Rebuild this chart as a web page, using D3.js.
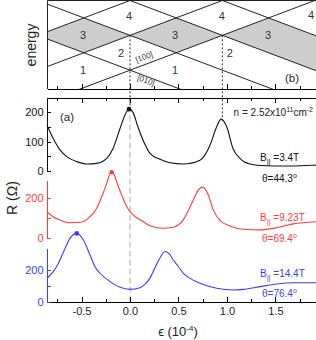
<!DOCTYPE html>
<html>
<head>
<meta charset="utf-8">
<script src="https://cdn.jsdelivr.net/npm/d3@7"></script>
<style>
  body { margin: 0; background: #fff; }
  svg { display: block; font-family: 'Liberation Sans', Arial, sans-serif; }
</style>
</head>
<body>
<div id="chart"></div>
<script>
// strain axis (units of 1e-4)
const strainRange = [-0.856, 1.918];
const strainMajor = [-0.5, 0, 0.5, 1, 1.5];
const strainMinor = [-0.75, -0.25, 0.25, 0.75, 1.25, 1.75];

// (b) level fan: energy of each valley level at zero strain, slope vs strain
const levels100 = [1, 2, 3, 4];
const levels010 = [1, 2, 3, 4, 5];
const levelSlope = 1.05;
const energyRange = [0.46, 3];
const greyFilling = 3;
const regionLabels = [
  ['1', -0.485, 1.0], ['1', 0.464, 1.0],
  ['2', -0.093, 1.49], ['2', 1.03, 1.49],
  ['3', -0.485, 2.0], ['3', 0.464, 2.0], ['3', 1.423, 2.0],
  ['4', -0.01, 2.55], ['4', 0.948, 2.55], ['4', 1.866, 2.57]
];
const coincidences = [0, 0.952];

// (a) resistance traces, [strain, R in ohm]
const traceBlack = [
  [-0.856, 156], [-0.792, 111], [-0.722, 72], [-0.653, 49], [-0.549, 32], [-0.446, 24],
  [-0.343, 26], [-0.240, 43], [-0.175, 77], [-0.103, 145], [-0.052, 191], [-0.010, 211],
  [0.031, 200], [0.082, 150], [0.155, 90], [0.206, 60], [0.309, 40], [0.412, 28],
  [0.546, 24], [0.722, 37], [0.825, 88], [0.894, 151], [0.938, 177], [0.997, 151],
  [1.062, 77], [1.134, 43], [1.237, 24], [1.409, 18], [1.577, 17], [1.753, 18], [1.918, 20]
];
const traceRed = [
  [-0.856, 133], [-0.794, 108], [-0.722, 92], [-0.619, 78], [-0.515, 80], [-0.412, 108],
  [-0.343, 150], [-0.292, 208], [-0.240, 275], [-0.216, 312], [-0.189, 330], [-0.160, 315],
  [-0.138, 283], [-0.086, 217], [-0.034, 158], [0.034, 116], [0.137, 83], [0.206, 63],
  [0.343, 50], [0.447, 55], [0.549, 92], [0.653, 192], [0.704, 242], [0.750, 256],
  [0.807, 217], [0.859, 142], [0.928, 88], [1.031, 62], [1.168, 45], [1.340, 42],
  [1.512, 53], [1.684, 72], [1.918, 83]
];
const traceBlue = [
  [-0.856, 149], [-0.792, 190], [-0.739, 241], [-0.670, 334], [-0.619, 396], [-0.549, 427],
  [-0.481, 386], [-0.412, 293], [-0.361, 220], [-0.309, 180], [-0.206, 128], [-0.103, 93],
  [0.000, 80], [0.103, 90], [0.155, 112], [0.206, 150], [0.258, 215], [0.309, 275],
  [0.361, 315], [0.412, 295], [0.446, 262], [0.495, 225], [0.546, 183], [0.619, 148],
  [0.722, 118], [0.894, 87], [1.065, 76], [1.168, 80], [1.340, 97], [1.512, 113],
  [1.684, 121], [1.918, 121]
];
const fieldLabels = ['3.4T', '9.23T', '14.4T'];
const angleLabels = ['44.3', '69.4', '76.4'];
const rRanges = [[0, 250], [0, 291], [0, 334]];
const rTicks = [[0, 50, 100, 150, 200], [0, 100, 200], [0, 100, 200]];
const rTickLabels = [[0, 100, 200], [0, 200], [0, 200]];

const W = 316, H = 340;
const L = 47, R = 316;
const colors = ['#111', '#ff3b3b', '#3b3bff'];
const traces = [traceBlack, traceRed, traceBlue];

const svg = d3.select('#chart').append('svg').attr('width', W).attr('height', H);

const x = d3.scaleLinear().domain(strainRange).range([L, R]);
const yE = d3.scaleLinear().domain(energyRange).range([89, 0.5]);
const bands = [[97.7, 171], [180.1, 238.3], [248.4, 302.3]];
const yR = rRanges.map((d, i) => d3.scaleLinear().domain(d).range([bands[i][1], bands[i][0]]));

// ---- panel (b)
svg.append('defs').append('clipPath').attr('id', 'clipB').append('rect')
  .attr('x', L).attr('y', 0.5).attr('width', R - L).attr('height', 88.5);

const fan = [
  ...levels100.map(c => ({ c, s: levelSlope })),
  ...levels010.map(c => ({ c, s: -levelSlope }))
];
const energyAt = (l, e) => l.c + l.s * e;
const sortedAt = e => fan.map(l => energyAt(l, e)).sort(d3.ascending);

const cuts = [...strainRange];
levels100.forEach(a => levels010.forEach(b => {
  const e = (b - a) / (2 * levelSlope);
  if (e > strainRange[0] && e < strainRange[1]) cuts.push(e);
}));
cuts.sort(d3.ascending);
const band = cuts.map(e => {
  const es = sortedAt(e);
  return { e, lo: es[greyFilling - 1], hi: es[greyFilling] };
});

const gb = svg.append('g').attr('clip-path', 'url(#clipB)');
gb.append('path').datum(band)
  .attr('fill', '#cdcdcd')
  .attr('d', d3.area().x(d => x(d.e)).y0(d => yE(d.lo)).y1(d => yE(d.hi)));

gb.selectAll('line.lvl').data(fan).enter().append('line')
  .attr('x1', x(strainRange[0])).attr('x2', x(strainRange[1]))
  .attr('y1', d => yE(energyAt(d, strainRange[0])))
  .attr('y2', d => yE(energyAt(d, strainRange[1])))
  .attr('stroke', '#222').attr('stroke-width', 1);

svg.selectAll('text.region').data(regionLabels).enter().append('text')
  .attr('x', d => x(d[1])).attr('y', d => yE(d[2])).attr('dy', '0.36em')
  .attr('text-anchor', 'middle').attr('font-size', 11).attr('fill', '#333')
  .text(d => d[0]);

// valley tags along the lowest levels
const ang = Math.atan2(yE(1 + levelSlope) - yE(1), x(1) - x(0)) * 180 / Math.PI;
const tagE = 0.155;
[[levels100[0], levelSlope, '[100]', -5], [levels010[0], -levelSlope, '[010]', 7]].forEach(t => {
  const tx = x(tagE), ty = yE(t[0] + t[1] * tagE) + t[3];
  svg.append('text').attr('transform', `translate(${tx},${ty}) rotate(${t[1] > 0 ? ang : -ang})`)
    .attr('text-anchor', 'middle').attr('font-size', 8).attr('fill', '#333').text(t[2]);
});

svg.append('text').attr('x', 285).attr('y', 82).attr('font-size', 11.5).attr('fill', '#222').text('(b)');

// frame + ticks (b)
svg.append('path').attr('d', `M${R},0.5H${L + 0.5}V89`).attr('fill', 'none').attr('stroke', '#222');
const bAxis = svg.append('g').attr('transform', 'translate(0,89)')
  .call(d3.axisBottom(x).tickValues(strainMajor).tickSize(-5).tickSizeOuter(0).tickFormat(''));
const bMinor = svg.append('g').attr('transform', 'translate(0,89)')
  .call(d3.axisBottom(x).tickValues(strainMinor).tickSize(-3).tickSizeOuter(0).tickFormat(''));
bMinor.select('.domain').remove();

svg.append('text').attr('transform', 'translate(35.5,45) rotate(-90)')
  .attr('text-anchor', 'middle').attr('font-size', 14).attr('fill', '#222').text('energy');

// ---- panel (a)
svg.append('line').attr('x1', x(0)).attr('x2', x(0)).attr('y1', 97.7).attr('y2', 302.3)
  .attr('stroke', '#aaa').attr('stroke-dasharray', '6,3');

const blackAt = d3.scaleLinear().domain(traceBlack.map(d => d[0])).range(traceBlack.map(d => d[1]));
coincidences.forEach(e => {
  svg.append('line').attr('x1', x(e)).attr('x2', x(e))
    .attr('y1', yE(sortedAt(e)[greyFilling])).attr('y2', yR[0](blackAt(e)))
    .attr('stroke', '#222').attr('stroke-dasharray', '2,2');
});

traces.forEach((t, i) => {
  svg.append('path').datum(t)
    .attr('fill', 'none').attr('stroke', colors[i]).attr('stroke-width', 1.1)
    .attr('d', d3.line().x(d => x(d[0])).y(d => yR[i](d[1])).curve(d3.curveMonotoneX));
  const pk = d3.greatest(t, d => d[1]);
  svg.append('circle').attr('cx', x(pk[0])).attr('cy', yR[i](pk[1])).attr('r', 2.3).attr('fill', colors[i]);
});

const topAx = svg.append('g').attr('transform', 'translate(0,97.7)')
  .call(d3.axisTop(x).tickValues(strainMajor).tickSize(-5).tickSizeOuter(0).tickFormat(''));
svg.append('g').attr('transform', 'translate(0,97.7)')
  .call(d3.axisTop(x).tickValues(strainMinor).tickSize(-3).tickSizeOuter(0).tickFormat(''))
  .select('.domain').remove();

const xAx = svg.append('g').attr('transform', 'translate(0,302.3)')
  .call(d3.axisBottom(x).tickValues(strainMajor).tickSize(-5).tickSizeOuter(0).tickPadding(5)
    .tickFormat(d => d.toFixed(1)));
svg.append('g').attr('transform', 'translate(0,302.3)')
  .call(d3.axisBottom(x).tickValues(strainMinor).tickSize(-3).tickSizeOuter(0).tickFormat(''))
  .select('.domain').remove();
xAx.selectAll('text').attr('font-size', 11).attr('fill', '#222')
  .attr('font-family', "'Liberation Sans', Arial, sans-serif");

yR.forEach((y, i) => {
  const ax = svg.append('g').attr('transform', `translate(${L},0)`)
    .call(d3.axisLeft(y).tickValues(rTicks[i]).tickSize(-4).tickSizeOuter(0).tickPadding(3.5)
      .tickFormat(d => rTickLabels[i].includes(d) ? d : ''));
  ax.selectAll('line, path').attr('stroke', colors[i]);
  ax.selectAll('text').attr('font-size', 11).attr('fill', colors[i])
    .attr('font-family', "'Liberation Sans', Arial, sans-serif");
});

svg.selectAll('.domain, .tick line').attr('shape-rendering', 'crispEdges');

svg.append('text').attr('x', 60).attr('y', 121).attr('font-size', 11.5).attr('fill', '#222').text('(a)');

const nTxt = svg.append('text').attr('x', 313).attr('y', 116).attr('text-anchor', 'end')
  .attr('font-size', 10).attr('fill', '#222');
nTxt.append('tspan').text('n = 2.52x10');
nTxt.append('tspan').attr('dy', -4).attr('font-size', 7).text('11');
nTxt.append('tspan').attr('dy', 4).text('cm');
nTxt.append('tspan').attr('dy', -4).attr('font-size', 7).text('-2');

const bBase = [161, 221, 277];
const tBase = [182, 242, 297];
traces.forEach((t, i) => {
  const b = svg.append('text').attr('x', 260).attr('y', bBase[i]).attr('font-size', 10).attr('fill', colors[i]);
  b.append('tspan').text('B');
  b.append('tspan').attr('dy', 3).attr('font-size', 7.5).text('||');
  b.append('tspan').attr('dy', -3).text(' =' + fieldLabels[i]);
  const th = svg.append('text').attr('x', 262).attr('y', tBase[i]).attr('font-size', 10).attr('fill', colors[i]);
  th.append('tspan').text('θ=' + angleLabels[i]);
  th.append('tspan').attr('dy', -4).attr('font-size', 7).text('o');
});

svg.append('text').attr('transform', 'translate(16.5,198) rotate(-90)')
  .attr('text-anchor', 'middle').attr('font-size', 14).attr('fill', '#222').text('R (Ω)');

const xt = svg.append('text').attr('x', 178).attr('y', 336).attr('text-anchor', 'middle')
  .attr('font-size', 13).attr('fill', '#222');
xt.append('tspan').text('ϵ (10');
xt.append('tspan').attr('dy', -5).attr('font-size', 8).text('-4');
xt.append('tspan').attr('dy', 5).text(')');
</script>
</body>
</html>
